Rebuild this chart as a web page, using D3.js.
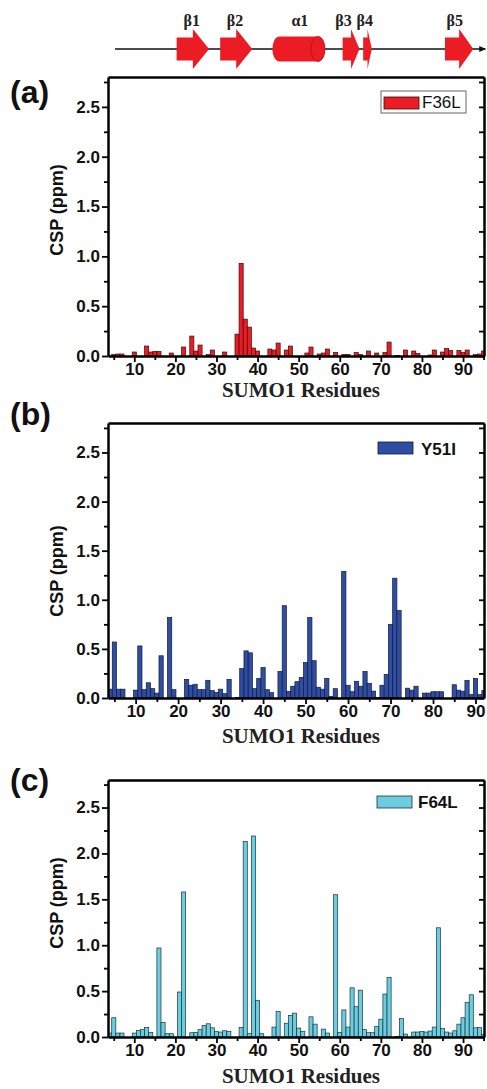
<!DOCTYPE html>
<html>
<head>
<meta charset="utf-8">
<script src="https://cdn.jsdelivr.net/npm/d3@7/dist/d3.min.js"></script>
<style>
  html, body { margin: 0; padding: 0; background: #fff; }
  svg { display: block; }
  .tick text { font-family: "Liberation Sans", Arial, sans-serif; font-weight: bold; fill: #111; }
</style>
</head>
<body>
<div id="chart"></div>
<script>
// ---- Chemical shift perturbations of SUMO1 residues for three mutants ----
const f36lResidues = [5,6,7,10,13,14,15,16,19,22,24,25,26,28,29,32,35,36,37,38,39,40,43,44,45,47,48,52,53,55,56,57,59,61,62,64,65,67,69,71,72,74,76,78,79,82,83,85,86,87,89,90,91,93,94,95];
const f36lCSP = [0.015,0.02,0.02,0.04,0.1,0.04,0.045,0.045,0.03,0.09,0.2,0.05,0.11,0.015,0.06,0.04,0.22,0.93,0.37,0.29,0.08,0.05,0.07,0.06,0.13,0.06,0.1,0.03,0.09,0.02,0.03,0.07,0.035,0.015,0.015,0.035,0.015,0.05,0.03,0.035,0.14,0.005,0.06,0.05,0.025,0.01,0.06,0.04,0.075,0.055,0.055,0.035,0.06,0.015,0.02,0.05];

const y51iResidues = [4,5,6,7,10,11,12,13,14,15,16,18,19,22,23,24,25,26,27,28,29,30,31,32,34,35,36,37,38,39,40,41,42,44,45,46,47,48,49,50,51,52,53,54,55,56,57,59,60,61,62,63,64,65,66,67,68,69,70,71,72,74,75,76,78,79,80,81,82,85,86,87,88,89,90,91,92];
const y51iCSP = [0.09,0.57,0.09,0.09,0.08,0.53,0.085,0.155,0.095,0.05,0.43,0.82,0.085,0.19,0.13,0.14,0.085,0.085,0.18,0.075,0.058,0.09,0.044,0.19,0.007,0.3,0.48,0.46,0.095,0.2,0.31,0.085,0.054,0.27,0.94,0.068,0.12,0.166,0.21,0.36,0.82,0.38,0.11,0.09,0.2,0.017,0.095,1.29,0.13,0.064,0.17,0.12,0.27,0.15,0.07,0.007,0.13,0.24,0.75,1.22,0.89,0.1,0.08,0.12,0.05,0.05,0.064,0.064,0.064,0.135,0.08,0.07,0.18,0.034,0.2,0.034,0.078];

const f64lResidues = [4,5,6,7,10,11,12,13,14,16,17,18,19,21,22,24,25,26,27,28,29,30,31,32,33,36,37,38,39,40,41,44,45,47,48,49,50,51,53,54,56,57,59,60,61,62,63,64,65,66,67,68,69,70,71,72,74,75,76,78,79,80,81,82,83,84,85,86,87,88,89,90,91,92,93,94,95];
const f64lCSP = [0.043,0.21,0.043,0.043,0.043,0.072,0.08,0.104,0.05,0.97,0.158,0.036,0.036,0.49,1.58,0.047,0.05,0.08,0.126,0.144,0.1,0.058,0.054,0.068,0.061,0.104,2.13,0.036,2.19,0.4,0.036,0.108,0.277,0.15,0.234,0.26,0.097,0.06,0.22,0.14,0.086,0.043,1.55,0.05,0.295,0.108,0.536,0.33,0.51,0.08,0.047,0.047,0.115,0.194,0.468,0.65,0.007,0.2,0.032,0.054,0.054,0.06,0.054,0.065,0.108,1.19,0.094,0.054,0.043,0.068,0.14,0.21,0.378,0.46,0.1,0.104,0.03];

// axis ticks
const yMajorTicks = [0, 0.5, 1.0, 1.5, 2.0, 2.5];
const yMinorTicks = [0.25, 0.75, 1.25, 1.75, 2.25, 2.75];
const xMajorTicks = [10, 20, 30, 40, 50, 60, 70, 80, 90];
const xMinorTicks = [5, 15, 25, 35, 45, 55, 65, 75, 85, 95];

// secondary structure of SUMO1 (residue numbers)
const ssType = ["strand", "strand", "helix", "strand", "strand", "strand"];
const ssStart = [20.3, 30.9, 43.6, 60.7, 65.7, 85.6];
const ssEnd = [28.2, 38.7, 56.4, 64.8, 67.8, 92.5];
const ssLabels = ["β1", "β2", "α1", "β3", "β4", "β5"];
const ssLabelAt = [24.0, 34.5, 50.3, 60.9, 66.1, 88.0];

const W = 487, H = 1089;
const svg = d3.select("#chart").append("svg")
  .attr("width", W).attr("height", H)
  .attr("viewBox", `0 0 ${W} ${H}`);
svg.append("rect").attr("width", W).attr("height", H).attr("fill", "#fff");

const SANS = '"Liberation Sans", Arial, Helvetica, sans-serif';
const SERIF = '"Liberation Serif", "Times New Roman", serif';
const RED = "#ec1c24";

const panels = [
  { key: "a", res: f36lResidues, val: f36lCSP, xDomain: [3.6, 95.1],
    left: 108, right: 484, top: 77, bottom: 356,
    fill: "#ec1c24", stroke: "#3a0b0b",
    tag: "(a)", tagY: 103, yTitleY: 210, xTitleY: 397,
    legend: { name: "F36L", boxed: true, bold: false, sx: 384, sy: 97, tx: 422, ty: 108 } },
  { key: "b", res: y51iResidues, val: y51iCSP, xDomain: [3.5, 92],
    left: 108, right: 484, top: 423, bottom: 698,
    fill: "#2f4ea3", stroke: "#101a3a",
    tag: "(b)", tagY: 425, yTitleY: 571, xTitleY: 743,
    legend: { name: "Y51I", boxed: false, bold: true, sx: 378, sy: 442, tx: 421, ty: 455 } },
  { key: "c", res: f64lResidues, val: f64lCSP, xDomain: [3.6, 95.1],
    left: 108, right: 484, top: 780, bottom: 1037,
    fill: "#6ccde0", stroke: "#16343a",
    tag: "(c)", tagY: 791, yTitleY: 903, xTitleY: 1083,
    legend: { name: "F64L", boxed: false, bold: true, sx: 377, sy: 796, tx: 418, ty: 808 } }
];

const scales = {};

panels.forEach(p => {
  const x = d3.scaleLinear().domain(p.xDomain).range([p.left, p.right]);
  const y = d3.scaleLinear().domain([0, 2.8]).range([p.bottom, p.top]);
  scales[p.key] = { x, y };
  const g = svg.append("g").attr("class", "panel-" + p.key);

  const clipId = "clip-" + p.key;
  svg.append("clipPath").attr("id", clipId)
    .append("rect")
    .attr("x", p.left).attr("y", p.top)
    .attr("width", p.right - p.left).attr("height", p.bottom - p.top);

  // bars, one residue wide
  const rows = p.res.map((r, i) => ({ r, v: p.val[i] }));
  g.append("g").attr("clip-path", `url(#${clipId})`)
    .selectAll("rect").data(rows).join("rect")
    .attr("x", d => x(d.r - 0.5))
    .attr("width", d => x(d.r + 0.5) - x(d.r - 0.5))
    .attr("y", d => y(d.v))
    .attr("height", d => y(0) - y(d.v))
    .attr("fill", p.fill)
    .attr("stroke", p.stroke)
    .attr("stroke-width", 0.7);

  // left axis: labelled major ticks + short minor ticks
  const yAx = g.append("g").attr("transform", `translate(${p.left},0)`)
    .call(d3.axisLeft(y).tickValues(yMajorTicks).tickFormat(d3.format(".1f"))
      .tickSize(6).tickSizeOuter(0).tickPadding(2));
  yAx.selectAll("text").attr("font-size", 17);
  g.append("g").attr("transform", `translate(${p.left},0)`)
    .call(d3.axisLeft(y).tickValues(yMinorTicks).tickFormat("").tickSize(4).tickSizeOuter(0))
    .select(".domain").remove();

  // right axis: inward ticks
  g.append("g").attr("transform", `translate(${p.right},0)`)
    .call(d3.axisLeft(y).tickValues(yMajorTicks.concat(yMinorTicks)).tickFormat("").tickSize(5).tickSizeOuter(0));

  // bottom axis
  const xAx = g.append("g").attr("transform", `translate(0,${p.bottom})`)
    .call(d3.axisBottom(x).tickValues(xMajorTicks).tickFormat(d3.format("d"))
      .tickSize(6).tickSizeOuter(0).tickPadding(1));
  xAx.selectAll("text").attr("font-size", 17);
  g.append("g").attr("transform", `translate(0,${p.bottom})`)
    .call(d3.axisBottom(x).tickValues(xMinorTicks.filter(t => t <= p.xDomain[1])).tickFormat("").tickSize(4).tickSizeOuter(0))
    .select(".domain").remove();

  // top frame line
  g.append("g").attr("transform", `translate(0,${p.top})`)
    .call(d3.axisTop(x).tickValues([]).tickSizeOuter(0));

  g.selectAll(".domain").attr("stroke", "#000").attr("stroke-width", 2.5);
  g.selectAll(".tick line").attr("stroke", "#000").attr("stroke-width", 1.8);

  // titles
  g.append("text")
    .attr("transform", `translate(63,${p.yTitleY}) rotate(-90)`)
    .attr("text-anchor", "middle")
    .attr("font-family", SANS).attr("font-weight", "bold").attr("font-size", 18)
    .attr("fill", "#111")
    .text("CSP (ppm)");
  g.append("text")
    .attr("x", 301).attr("y", p.xTitleY)
    .attr("text-anchor", "middle")
    .attr("font-family", SERIF).attr("font-weight", "bold").attr("font-size", 21)
    .attr("fill", "#222")
    .text("SUMO1 Residues");
  g.append("text")
    .attr("x", 10).attr("y", p.tagY)
    .attr("font-family", SANS).attr("font-weight", "bold").attr("font-size", 32)
    .attr("fill", "#111")
    .text(p.tag);

  // legend
  const L = p.legend;
  if (L.boxed) {
    g.append("rect")
      .attr("x", L.sx - 3).attr("y", L.sy - 6)
      .attr("width", 85).attr("height", 22)
      .attr("fill", "#fff").attr("stroke", "#666").attr("stroke-width", 1);
  }
  g.append("rect")
    .attr("x", L.sx).attr("y", L.sy)
    .attr("width", 35).attr("height", 12)
    .attr("fill", p.fill).attr("stroke", p.stroke).attr("stroke-width", 0.8);
  g.append("text")
    .attr("x", L.tx).attr("y", L.ty)
    .attr("font-family", SANS).attr("font-weight", L.bold ? "bold" : "normal")
    .attr("font-size", 17).attr("fill", "#111")
    .text(L.name);
});

// ---- secondary structure track above panel (a) ----
const sx = scales.a.x;
const lineY = 49;
const ss = svg.append("g").attr("class", "secondary-structure");
ss.append("line")
  .attr("x1", sx(5.3)).attr("x2", sx(95.4))
  .attr("y1", lineY).attr("y2", lineY)
  .attr("stroke", "#111").attr("stroke-width", 1.5);
ss.append("path")
  .attr("d", `M${sx(95.4) - 6},${lineY - 3} L${sx(95.4) + 1},${lineY} L${sx(95.4) - 6},${lineY + 3} Z`)
  .attr("fill", "#111");

ssType.forEach((t, i) => {
  const x0 = sx(ssStart[i]), x1 = sx(ssEnd[i]);
  if (t === "strand") {
    const xh = x0 + (x1 - x0) * 0.5;
    const bh = 11.5, hh = 20;
    ss.append("path")
      .attr("d", `M${x0},${lineY - bh} L${xh},${lineY - bh} L${xh},${lineY - hh} L${x1},${lineY} L${xh},${lineY + hh} L${xh},${lineY + bh} L${x0},${lineY + bh} Z`)
      .attr("fill", RED);
  } else {
    const ry = 12.5, rx = 7;
    ss.append("path")
      .attr("d", `M${x0 + rx},${lineY - ry} L${x1 - rx},${lineY - ry} A${rx},${ry} 0 0 1 ${x1 - rx},${lineY + ry} L${x0 + rx},${lineY + ry} A${rx},${ry} 0 0 1 ${x0 + rx},${lineY - ry} Z`)
      .attr("fill", RED);
    ss.append("ellipse")
      .attr("cx", x1 - rx).attr("cy", lineY).attr("rx", rx).attr("ry", ry)
      .attr("fill", RED).attr("stroke", "#b3121a").attr("stroke-width", 0.8);
  }
});

ss.selectAll("text.ss").data(ssLabels).join("text")
  .attr("class", "ss")
  .attr("x", (d, i) => sx(ssLabelAt[i]))
  .attr("y", 26)
  .attr("text-anchor", "middle")
  .attr("font-family", SERIF).attr("font-weight", "bold").attr("font-size", 16)
  .attr("fill", "#222")
  .text(d => d);
</script>
</body>
</html>
